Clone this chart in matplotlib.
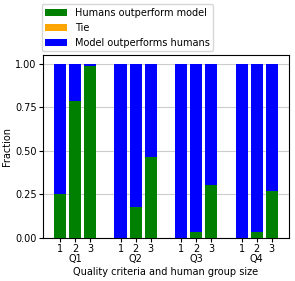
import matplotlib
matplotlib.use("Agg")
import matplotlib.pyplot as plt
import numpy as np

groups = ["Q1", "Q2", "Q3", "Q4"]
sizes = ["1", "2", "3"]
humans = [0.25, 0.785, 0.985, 0.0, 0.18, 0.466, 0.0, 0.036, 0.303, 0.0, 0.036, 0.268]
tie = [0.0] * 12
model = [1 - h - t for h, t in zip(humans, tie)]

plt.rcParams['font.size'] = 7
fig = plt.figure(figsize=(2.95, 2.81), dpi=100)
ax = fig.add_axes([0.145, 0.153, 0.835, 0.651])

pos = []
for g in range(len(groups)):
    for s in range(len(sizes)):
        pos.append(g * 4 + s)
pos = np.array(pos)

ax.bar(pos, humans, width=0.8, color="green", label="Humans outperform model", zorder=3)
ax.bar(pos, tie, width=0.8, bottom=humans, color="orange", label="Tie", zorder=3)
ax.bar(pos, model, width=0.8, bottom=np.array(humans) + np.array(tie), color="blue",
       label="Model outperforms humans", zorder=3)

ax.set_yticks([0, 0.25, 0.5, 0.75, 1.0])
ax.set_yticklabels(["0.00", "0.25", "0.50", "0.75", "1.00"])
ax.yaxis.grid(True, color="#cccccc", linewidth=0.8, zorder=0)
ax.set_axisbelow(True)
ax.set_xticks(pos)
ax.set_xticklabels(sizes * len(groups))
ax.tick_params(axis='both', pad=1.5, length=3)
ax.set_ylabel("Fraction", labelpad=2)

for g, name in enumerate(groups):
    ax.annotate(name, xy=(g * 4 + 1, 0), xycoords=('data', 'axes fraction'),
                xytext=(0, -11.5), textcoords='offset points', ha='center', va='top')
ax.set_xlabel("Quality criteria and human group size", labelpad=9)

ax.legend(loc='lower left', bbox_to_anchor=(-0.005, 1.02), borderaxespad=0,
          handlelength=2.2, fontsize=7)

fig.savefig("out.png", dpi=100)
